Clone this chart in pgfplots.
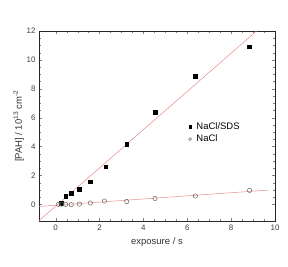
\documentclass[border=0pt]{standalone}
\usepackage{pgfplots}
\pgfplotsset{compat=1.18}
\usepackage{fontspec}
\setmainfont{Liberation Sans}
\definecolor{fitred}{rgb}{0.9,0.55,0.55}
\begin{document}
\begin{tikzpicture}
\useasboundingbox (0,0) rectangle (288bp,267bp);
\begin{axis}[
  at={(39bp,46bp)}, anchor=south west,
  scale only axis, width=236bp, height=190bp,
  xmin=-0.76, xmax=10, ymin=-1.15, ymax=12,
  xtick={0,2,4,6,8,10}, ytick={0,2,4,6,8,10,12},
  minor tick num=3,
  tick align=inside, tick pos=both,
  major tick length=3bp, minor tick length=1.6bp,
  /pgf/number format/assume math mode=true,
  ticklabel style={font=\fontsize{8}{9}\selectfont, text=black!75},
  xlabel={exposure / s},
  ylabel={[PAH] / 10\textsuperscript{13} cm\textsuperscript{-2}},
  label style={font=\fontsize{9.5}{11}\selectfont, text=black!80},
  xlabel style={yshift=-1bp},
  ylabel style={yshift=-4bp},
  axis line style={black!85, line width=0.7pt},
  legend style={draw=none, fill=none, at={(0.62,0.54)}, anchor=north west,
    font=\fontsize{9.5}{11}\selectfont, row sep=0pt, cells={anchor=west},
    nodes={inner xsep=5pt}},
  legend image code/.code={\draw[mark repeat=2,mark phase=2] plot coordinates {(0cm,0cm) (0.15cm,0cm) (0.3cm,0cm)};},
  legend cell align=left,
]
\addplot[fitred, line width=0.5pt, forget plot] coordinates {(-0.76,-1.13) (9.16,12)};
\addplot[fitred, line width=0.5pt, forget plot] coordinates {(-0.76,-0.14) (9.7,0.99)};
\addplot[only marks, mark=square*, mark size=1.8pt, black,
  legend image post style={mark size=1.3pt}] coordinates {
(0.24,0.09) (0.46,0.55) (0.71,0.76) (1.08,1.06) (1.58,1.57) (2.28,2.60)
(3.24,4.15) (4.54,6.36) (6.35,8.89) (8.83,10.9)};
\addlegendentry{NaCl/SDS}
\addplot[only marks, mark=o, mark size=2.2pt, black!60, line width=0.5pt,
  legend image post style={mark size=1.5pt}] coordinates {
(0.12,0.0) (0.27,0.02) (0.46,0.0) (0.71,-0.02) (1.08,0.02) (1.58,0.1)
(2.22,0.23) (3.24,0.2) (4.53,0.41) (6.37,0.58) (8.84,0.97)};
\addlegendentry{NaCl}
\end{axis}
\end{tikzpicture}
\end{document}
